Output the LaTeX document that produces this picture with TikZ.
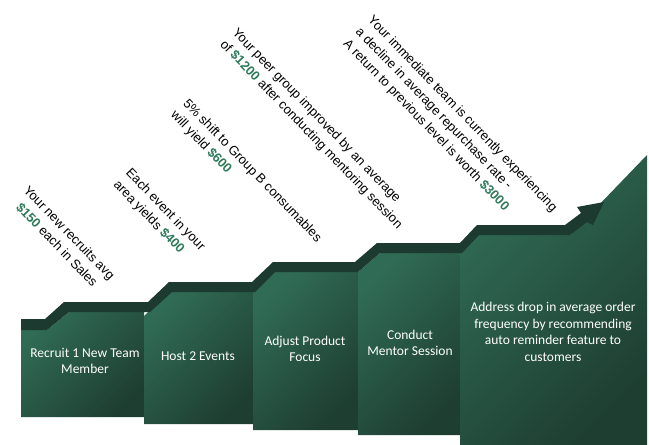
\documentclass[tikz,border=0pt]{standalone}
\usepackage{fontspec}
\setmainfont{Liberation Sans}
\newfontfamily\boxfont{Carlito}
\definecolor{band}{HTML}{1D3A30}
\definecolor{boxlight}{HTML}{306B55}
\definecolor{boxdark}{HTML}{1E3E32}
\definecolor{money}{HTML}{2E7A5A}
\tikzset{
  stepbox/.style={top color=boxlight, bottom color=boxdark, shading angle=45},
  boxtext/.style={text=white, font=\boxfont\fontsize{13.5}{16.5}\selectfont, align=center},
  note/.style={rotate=-46, font=\fontsize{13}{17}\selectfont, align=left, inner sep=0pt},
}
\newcommand\amt[1]{\textcolor{money}{\textbf{#1}}}
\begin{document}
\begin{tikzpicture}[x=1pt,y=-1pt]
\useasboundingbox (0,0) rectangle (649,445);
% boxes
\path[stepbox] (21,330) -- (47,330) -- (69,312) -- (144,312) -- (144,417) -- (21,417) -- cycle;
\path[stepbox] (144,316) -- (168,292) -- (253,292) -- (253,424) -- (144,424) -- cycle;
\path[stepbox] (253,292) -- (273,272) -- (358,272) -- (358,430) -- (253,430) -- cycle;
\path[stepbox] (358,272) -- (380,253) -- (460,253) -- (460,435) -- (358,435) -- cycle;
\path[stepbox] (460,253) -- (477,235) -- (570,235) -- (647,155) -- (647,445) -- (460,445) -- cycle;
% band with arrow
\fill[band] (21,319) -- (45,319) -- (64,302) -- (148,302) -- (169,282) -- (252,282) -- (273,262) -- (355,262) -- (377,243) -- (460,243) -- (477,225) -- (565,225) -- (581,213) -- (577,207) -- (604,202) -- (593,225) -- (587,222) -- (570,235) -- (479,235) -- (462,253) -- (380,253) -- (358,272) -- (275,272) -- (255,292) -- (172,292) -- (150,312) -- (69,312) -- (47,330) -- (21,330) -- cycle;
% box texts
\node[boxtext] (t1) at (85,361) {Recruit 1 New Team\\Member};
\node[boxtext] (t2) at (198,356) {Host 2 Events};
\node[boxtext] (t3) at (305,349) {Adjust Product\\Focus};
\node[boxtext] (t4) at (410,343) {Conduct\\Mentor Session};
\node[boxtext] (t5) at (553,332) {Address drop in average order\\frequency by recommending\\auto reminder feature to\\customers};
% notes
\node[note, align=center] (n1) at (63,239) {Your new recruits avg\\\amt{\$150} each in Sales};
\node[note] (n2) at (159,216) {Each event in your\\area yields \amt{\$400}};
\node[note] (n3) at (246,177) {5\% shift to Group B consumables\\will yield \amt{\$600}};
\node[note] (n4) at (317,129) {Your peer group improved by an average\\of \amt{\$1200} after conducting mentoring session};
\node[note] (n5) at (450,126) {Your immediate team is currently experiencing\\a decline in average repurchase rate -\\A return to previous level is worth \amt{\$3000}};
\end{tikzpicture}
\end{document}
